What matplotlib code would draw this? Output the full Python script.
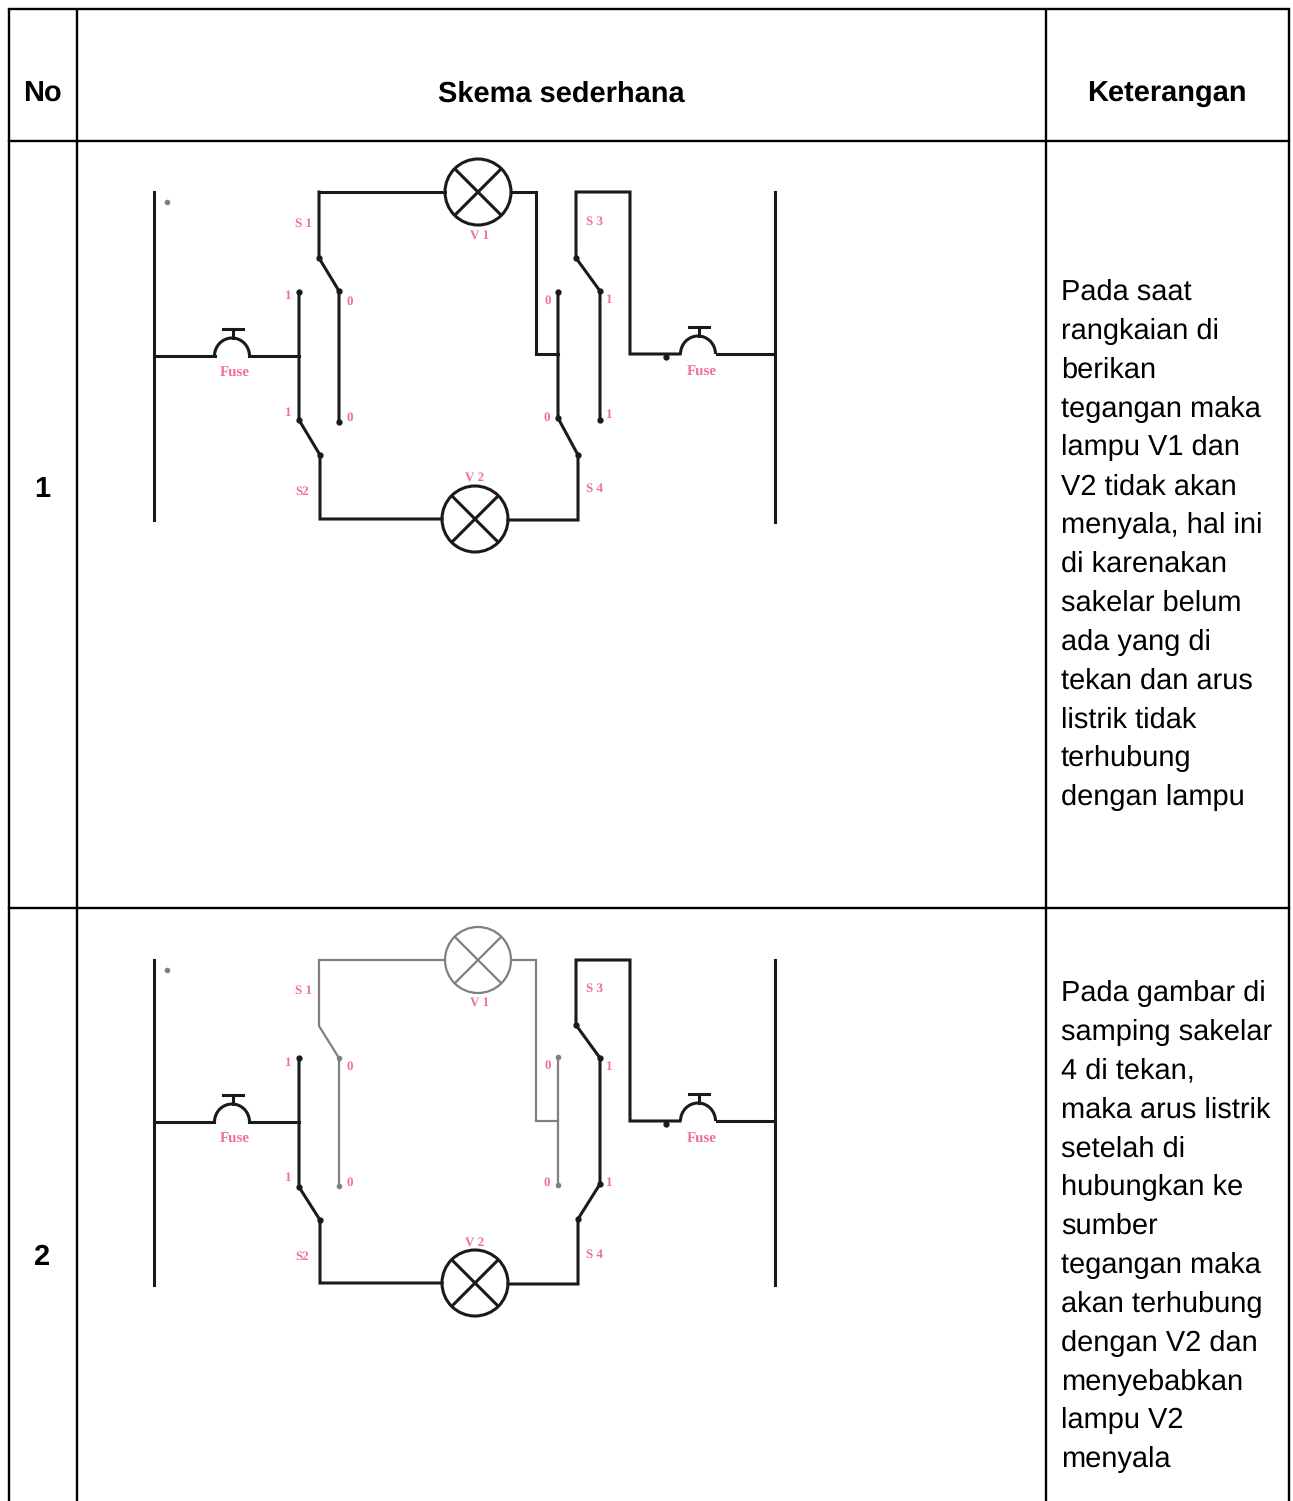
import matplotlib
matplotlib.use("Agg")
import matplotlib.pyplot as plt
from matplotlib.patches import Circle, Arc

plt.rcParams["font.family"] = ["Liberation Sans", "DejaVu Sans"]
plt.rcParams["text.hinting"] = "no_hinting"
plt.rcParams["text.hinting_factor"] = 1

W = 1293
H = 1501

header_labels = ["No", "Skema sederhana", "Keterangan"]
row_numbers = ["1", "2"]
row1_text = ["Pada saat", "rangkaian di", "berikan", "tegangan maka", "lampu V1 dan", "V2 tidak akan",
             "menyala, hal ini", "di karenakan", "sakelar belum", "ada yang di", "tekan dan arus",
             "listrik tidak", "terhubung", "dengan lampu"]
row2_text = ["Pada gambar di", "samping sakelar", "4 di tekan,", "maka arus listrik", "setelah di",
             "hubungkan ke", "sumber", "tegangan maka", "akan terhubung", "dengan V2 dan",
             "menyebabkan", "lampu V2", "menyala"]

# table rules, in pixels of the page
col_x = [9, 77, 1046, 1289]
row_y = [9, 141, 908]

# schema 1 wires
s1_dark = [
    [(154, 192), (154, 520)],
    [(775, 192), (775, 522)],
    [(154, 356), (215, 356)],
    [(249, 356), (299, 356)],
    [(319, 192), (445, 192)],
    [(511, 192), (536, 192), (536, 354), (558, 354)],
    [(319, 192), (319, 258), (339, 291), (339, 422)],
    [(299, 292), (299, 420), (320, 455), (320, 519), (442, 519)],
    [(508, 520), (578, 520), (578, 455), (558, 418), (558, 292)],
    [(600, 420), (600, 291), (576, 258), (576, 192), (630, 192), (630, 354), (680, 354)],
    [(717, 354), (775, 354)],
]
s1_gray = []
s1_dots = [(319, 258), (339, 291), (339, 422), (299, 292), (299, 420), (320, 455),
           (558, 292), (558, 418), (578, 455), (576, 258), (600, 291), (600, 420), (666, 357)]
s1_gray_dots = [(167, 202)]
s1_lamps = [(478, 192, "k"), (475, 519, "k")]
s1_fuses = [(232, 356), (698, 354)]
s1_labels = [("S 1", 303, 224), ("1", 288, 296), ("0", 350, 302), ("1", 288, 413), ("0", 350, 418),
             ("S2", 302, 492), ("V 1", 480, 236), ("V 2", 475, 478), ("0", 548, 301), ("S 3", 594, 222),
             ("1", 609, 300), ("0", 547, 418), ("1", 609, 415), ("S 4", 594, 489),
             ("Fuse", 235, 373), ("Fuse", 702, 372)]

# schema 2 wires
s2_dark = [
    [(154, 960), (154, 1285)],
    [(775, 960), (775, 1285)],
    [(154, 1122), (214, 1122)],
    [(249, 1122), (299, 1122)],
    [(299, 1058), (299, 1187), (320, 1220), (320, 1283), (442, 1283)],
    [(508, 1284), (578, 1284), (578, 1219), (600, 1184), (600, 1058), (576, 1025),
     (576, 960), (630, 960), (630, 1121), (680, 1121)],
    [(717, 1121), (775, 1121)],
]
s2_gray = [
    [(319, 960), (445, 960)],
    [(319, 960), (319, 1026), (339, 1058), (339, 1186)],
    [(511, 960), (536, 960), (536, 1121), (558, 1121)],
    [(558, 1057), (558, 1185)],
]
s2_dots = [(299, 1058), (299, 1187), (320, 1220), (578, 1219), (600, 1184), (600, 1058), (576, 1025),
           (666, 1124)]
s2_gray_dots = [(339, 1058), (339, 1186), (558, 1057), (558, 1185), (167, 970)]
s2_lamps = [(478, 960, "#808080"), (475, 1283, "k")]
s2_fuses = [(232, 1122), (698, 1121)]
s2_labels = [("S 1", 303, 991), ("1", 288, 1063), ("0", 350, 1067), ("1", 288, 1178), ("0", 350, 1183),
             ("S2", 302, 1257), ("V 1", 480, 1003), ("V 2", 475, 1243), ("0", 548, 1066), ("S 3", 594, 989),
             ("1", 609, 1067), ("0", 547, 1183), ("1", 609, 1183), ("S 4", 594, 1255),
             ("Fuse", 235, 1139), ("Fuse", 702, 1139)]


def draw_schema(ax, dark, gray, dots, gray_dots, lamps, fuses, labels):
    for w in gray:
        ax.plot([p[0] for p in w], [p[1] for p in w], color="#808080", lw=1.6, solid_joinstyle="miter")
    for w in dark:
        ax.plot([p[0] for p in w], [p[1] for p in w], color="#1a1a1a", lw=2.2, solid_joinstyle="miter")
    ax.plot([p[0] for p in dots], [p[1] for p in dots], "o", color="#1a1a1a", ms=3.5, ls="none")
    ax.plot([p[0] for p in gray_dots], [p[1] for p in gray_dots], "o", color="#808080", ms=3, ls="none")
    for cx, cy, c in lamps:
        lw = 2.2 if c == "k" else 1.6
        col = "#1a1a1a" if c == "k" else c
        ax.add_patch(Circle((cx, cy), 33, fill=False, ec=col, lw=lw))
        d = 23
        ax.plot([cx - d, cx + d], [cy - d, cy + d], color=col, lw=lw)
        ax.plot([cx - d, cx + d], [cy + d, cy - d], color=col, lw=lw)
    for cx, cy in fuses:
        ax.add_patch(Arc((cx, cy), 35, 36, theta1=180, theta2=360, ec="#1a1a1a", lw=2.2))
        ax.plot([cx + 1, cx + 1], [cy - 18, cy - 27], color="#1a1a1a", lw=2.2)
        ax.plot([cx - 9, cx + 11], [cy - 27, cy - 27], color="#1a1a1a", lw=2.2)
    for txt, x, y in labels:
        size = 10.5 if txt == "Fuse" else 9.5
        ax.text(x, y, txt, color="#e8336a", fontsize=size, fontweight="bold", family="Liberation Serif",
                ha="center", va="center", alpha=0.7)


fig = plt.figure(figsize=(W / 100, H / 100), dpi=100)
ax = fig.add_axes([0, 0, 1, 1])
ax.set_xlim(0, W)
ax.set_ylim(H, 0)
ax.axis("off")

# table rules
for x in col_x:
    ax.plot([x, x], [row_y[0], H], color="black", lw=1.7, solid_capstyle="butt")
for y in row_y:
    ax.plot([col_x[0], col_x[-1]], [y, y], color="black", lw=1.7, solid_capstyle="projecting")

# header
head_x = [42, 561, 1167]
for lab, x in zip(header_labels, head_x):
    ax.text(x, 102, lab, fontsize=21, fontweight="bold", ha="center", va="baseline", color="black")

ax.text(42, 497, row_numbers[0], fontsize=21, fontweight="bold", ha="center", va="baseline")
ax.text(42, 1265, row_numbers[1], fontsize=21, fontweight="bold", ha="center", va="baseline")

# right column text
for i, line in enumerate(row1_text):
    ax.text(1061, 300 + i * 38.85, line, fontsize=21, ha="left", va="baseline", color="black")
for i, line in enumerate(row2_text):
    ax.text(1061, 1001 + i * 38.85, line, fontsize=21, ha="left", va="baseline", color="black")

draw_schema(ax, s1_dark, s1_gray, s1_dots, s1_gray_dots, s1_lamps, s1_fuses, s1_labels)
draw_schema(ax, s2_dark, s2_gray, s2_dots, s2_gray_dots, s2_lamps, s2_fuses, s2_labels)

fig.savefig("out.png", dpi=100)
